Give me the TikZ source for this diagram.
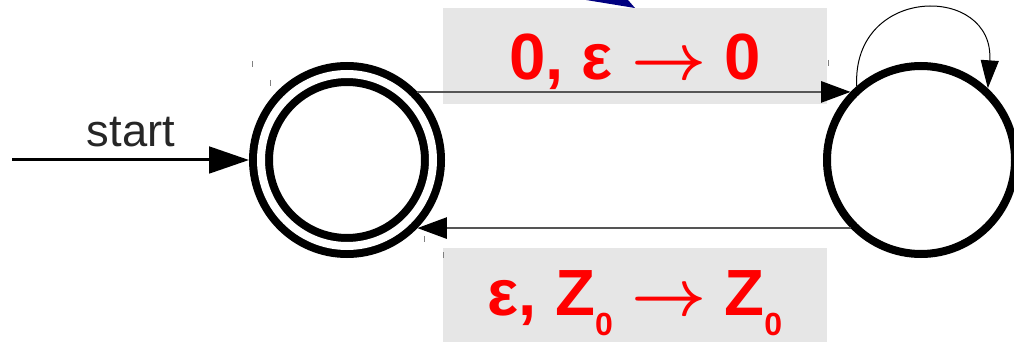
\documentclass[tikz,border=0pt]{standalone}
\usepackage{fontspec}
\usepackage{graphicx}
\setmainfont{Liberation Sans}
\usetikzlibrary{arrows.meta}

\definecolor{navyarc}{RGB}{0,0,128}
\definecolor{lblred}{RGB}{255,0,0}
\definecolor{lblgray}{RGB}{230,230,230}
\definecolor{edgegray}{RGB}{85,85,85}

\newcommand\lowsub[1]{\raisebox{-15pt}{\fontsize{24pt}{24pt}\selectfont #1}}
\newcommand\lblarrow{\scalebox{4.9}{\fontsize{10pt}{10pt}\selectfont\boldmath$\rightarrow$}}

\begin{document}
\begin{tikzpicture}[x=0.75pt,y=-0.75pt,
  stnode/.style={draw,circle,line width=6pt,minimum size=141pt,inner sep=0pt},
  acceptnode/.style={stnode,double,double distance=6pt,minimum size=129pt,outer sep=9pt},
  edge/.style={draw=edgegray,line width=1.1pt,-{Triangle[length=22pt,width=16pt,color=black]}},
  lblbox/.style={fill=lblgray,minimum width=288pt,minimum height=72pt,inner sep=0pt},
  lbltext/.style={text=lblred,font=\fontsize{49pt}{49pt}\selectfont\bfseries,anchor=base,inner sep=0pt}]
\useasboundingbox (0,0) rectangle (1014,342);

% arrow tip coming in from above
\fill[navyarc] (586,0) -- (628,0) -- (635,8) -- cycle;

% label backgrounds
\node[lblbox] (b01) at (635,56) {};
\node[lblbox] (b10) at (635,296) {};

% states
\node[acceptnode] (q0) at (347,160) {};
\node[stnode] (q1) at (921,160) {};

% start
\coordinate (s0) at (12,160);
\node[font=\fontsize{34pt}{34pt}\selectfont,text=black!85,anchor=base,inner sep=0pt] (st) at (131,147) {start};
\draw[line width=2.25pt,-{Triangle[length=30pt,width=20pt]}] (s0) -- (q0);

% transitions
\draw[edge] (q0.44) -- (q1.136);
\draw[edge] (q1.-136) -- (q0.-44);
\draw[line width=0.75pt,-{Triangle[length=21pt,width=13.5pt]}] (q1.131) .. controls (852,-16) and (995,-16) .. (q1.47);

\node[lbltext] (l01) at (635,80) {0, ε \lblarrow{} 0};
\node[lbltext] (l10) at (635,315) {ε, Z\lowsub{0} \lblarrow{} Z\lowsub{0}};

% small handle marks
\foreach \tx/\ty in {252/61,270/80,424/236,443/252,828/60}
  \draw[gray,line width=0.75pt] (\tx,\ty) -- +(0,6);
\end{tikzpicture}
\end{document}
